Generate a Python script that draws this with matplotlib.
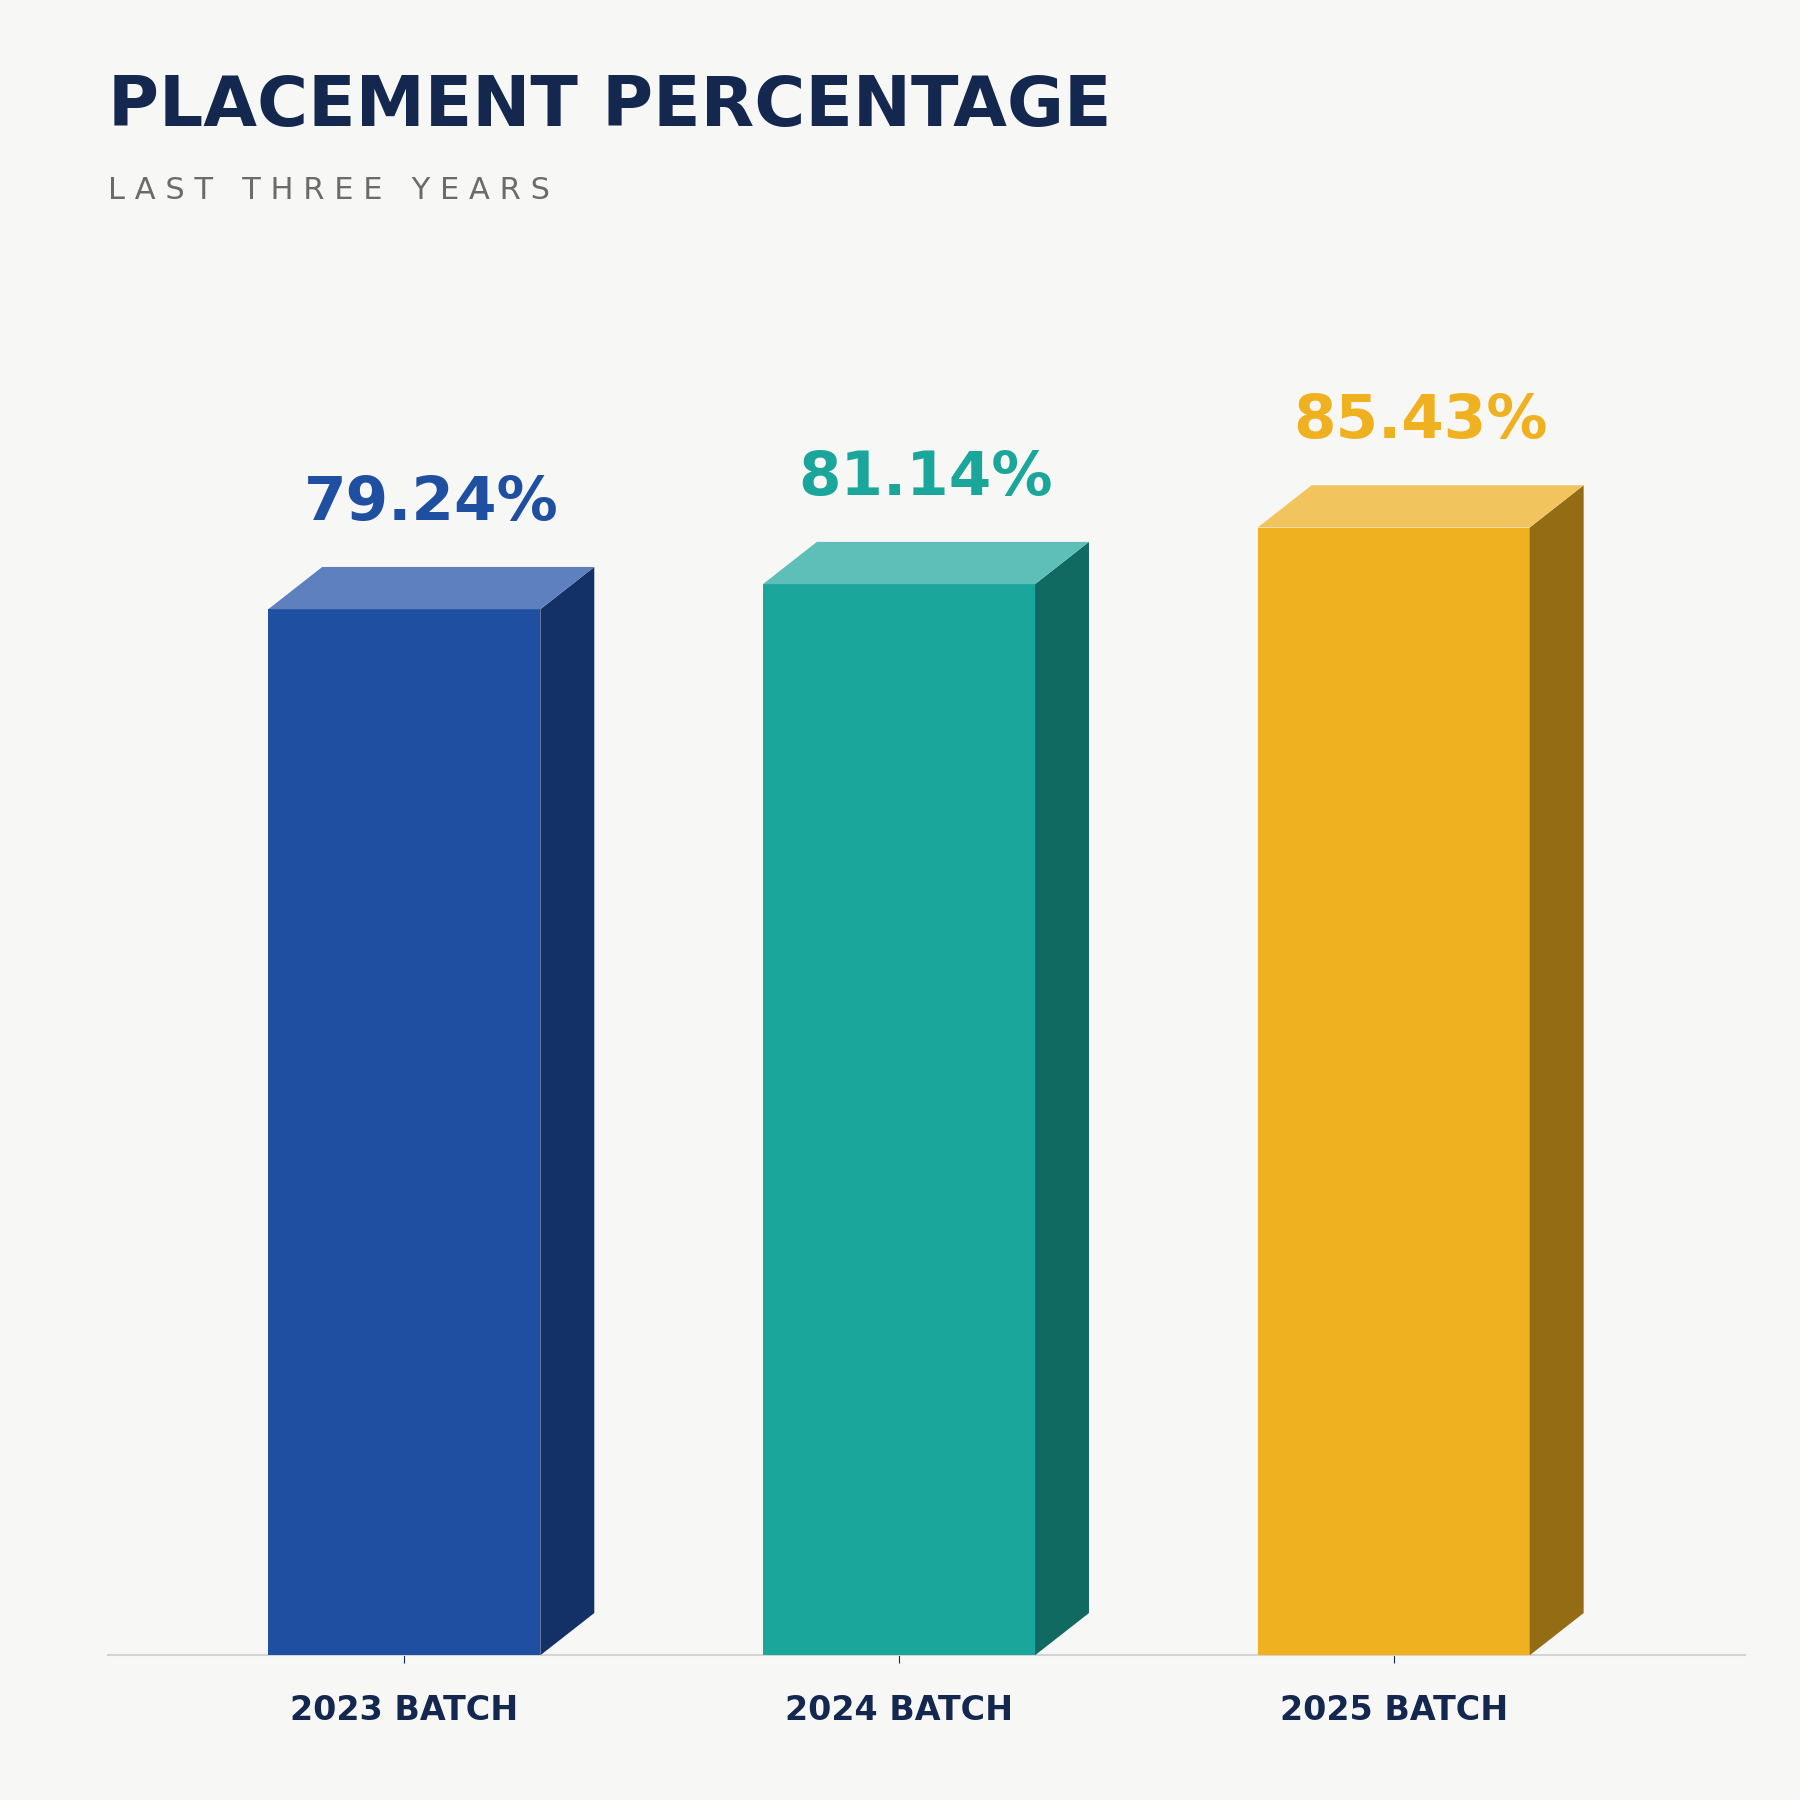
import matplotlib
matplotlib.use("Agg")
import matplotlib.pyplot as plt
from matplotlib.patches import Polygon, Rectangle

# ── Data ────────────────────────────────────────────────────
batches = ["2023 BATCH", "2024 BATCH", "2025 BATCH"]
values = [79.24, 81.14, 85.43]
front_colors = ["#1f4fa0", "#1ba69c", "#f0b120"]
side_colors = ["#133067", "#106a62", "#936c14"]
top_colors = ["#5f80bf", "#5dbfb7", "#f2c45e"]

BG = "#f7f7f5"
NAVY = "#14284f"
BAR_W = 0.55
DX, DY = 0.109, 3.2   # 3D depth offset in data units

fig = plt.figure(figsize=(18, 18), dpi=100, facecolor=BG)
ax = fig.add_axes([0.06, 0.0804, 0.9094, 0.7334])
ax.set_facecolor(BG)
ax.set_xlim(-0.599, 2.71)
ax.set_ylim(0, 100)

for i, v in enumerate(values):
    x0, x1 = i - BAR_W / 2, i + BAR_W / 2
    ax.add_patch(Rectangle((x0, 0), BAR_W, v, facecolor=front_colors[i], lw=0, zorder=3))
    ax.add_patch(Polygon([(x1, 0), (x1 + DX, DY), (x1 + DX, v + DY), (x1, v)],
                         facecolor=side_colors[i], lw=0, zorder=3))
    ax.add_patch(Polygon([(x0, v), (x0 + DX, v + DY), (x1 + DX, v + DY), (x1, v)],
                         facecolor=top_colors[i], lw=0, zorder=3))
    ax.text(i + DX / 2, v + DY + 2.6, f"{v:.2f}%", ha="center", va="bottom",
            fontsize=44, fontweight="bold", color=front_colors[i])

for s in ["top", "right", "left"]:
    ax.spines[s].set_visible(False)
ax.spines["bottom"].set_color("#d4d4d4")
ax.spines["bottom"].set_linewidth(1.5)
ax.set_yticks([])
ax.set_xticks(range(len(batches)))
ax.set_xticklabels(batches, fontsize=24, fontweight="bold", color=NAVY)
ax.tick_params(axis="x", length=6, color=NAVY, pad=22)

fig.text(0.06, 0.922, "PLACEMENT PERCENTAGE", fontsize=50, fontweight="bold",
         color=NAVY, va="bottom")
fig.text(0.06, 0.886, "L A S T   T H R E E   Y E A R S", fontsize=22,
         color="#6b6b6b", va="bottom")

fig.savefig("out.png", dpi=100, facecolor=BG)
